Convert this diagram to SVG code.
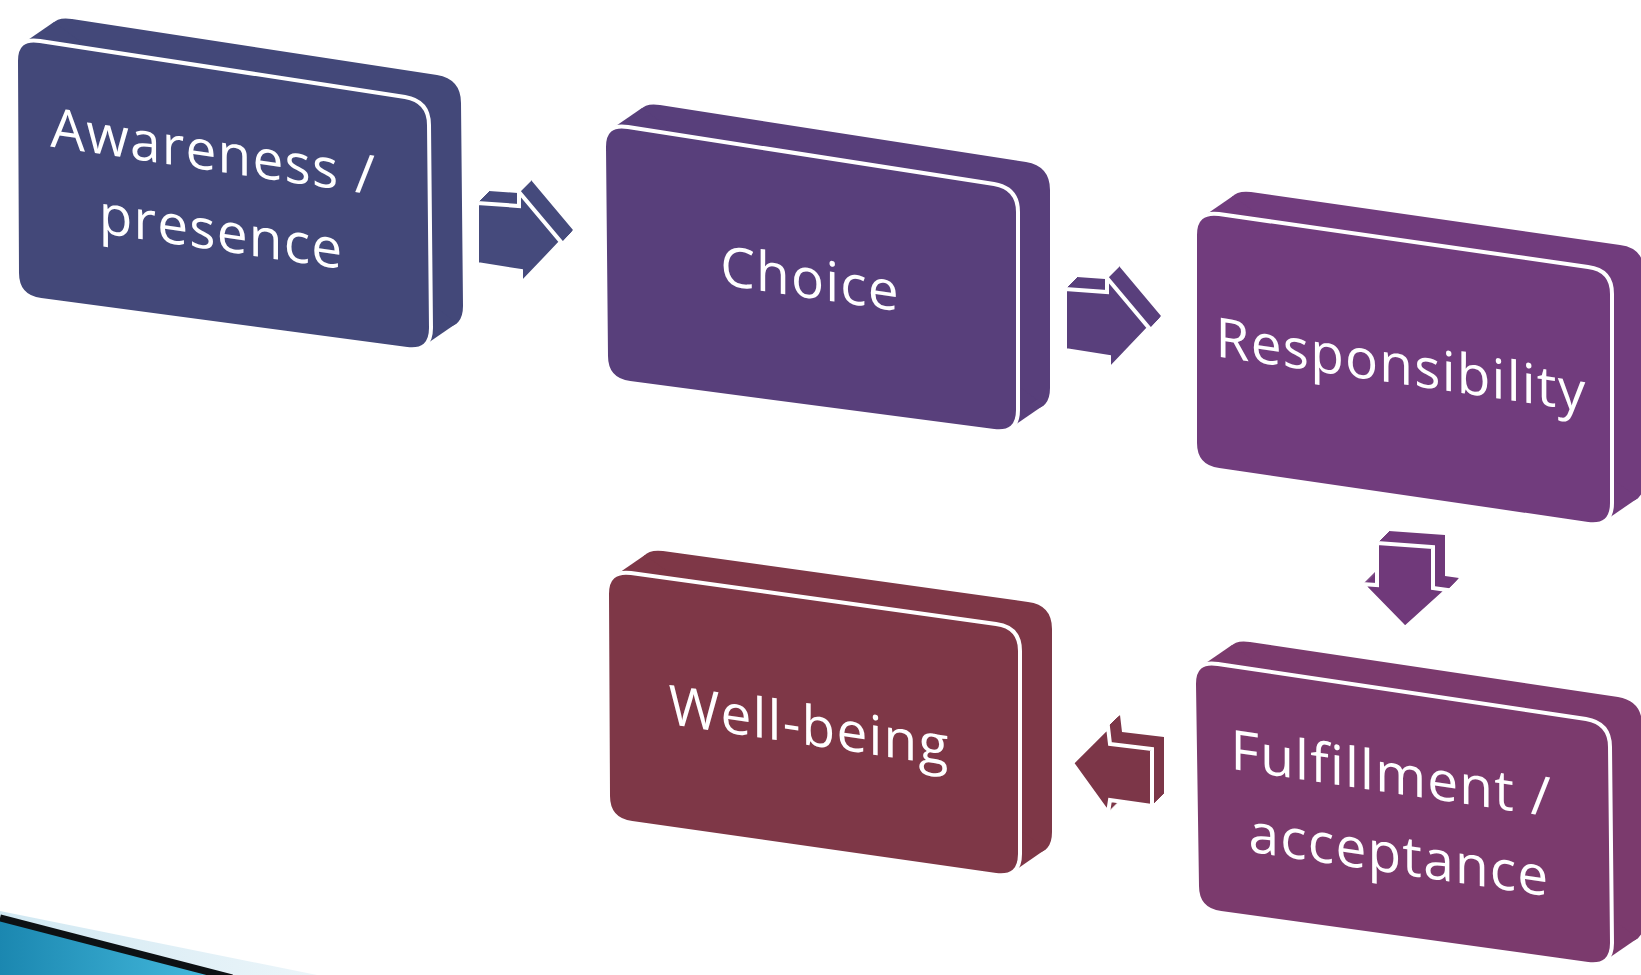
<svg xmlns="http://www.w3.org/2000/svg" width="1641" height="975" viewBox="0 0 1641 975">
  <defs>
    <style>
      .face { stroke: #ffffff; stroke-width: 4; stroke-linejoin: round; }
      .aface { stroke: #ffffff; stroke-width: 4; stroke-linejoin: miter; }
      .label { font-family: "Open Sans", "DejaVu Sans", sans-serif; font-size: 55px; fill: #ffffff; text-anchor: middle; letter-spacing: 1.2px; }
    </style>
    <linearGradient id="teal" x1="0" y1="0" x2="1" y2="0">
      <stop offset="0" stop-color="#1b87b0"/>
      <stop offset="1" stop-color="#47bde0"/>
    </linearGradient>
    <linearGradient id="haze" x1="0" y1="0" x2="1" y2="0">
      <stop offset="0" stop-color="#c9e4f0"/>
      <stop offset="1" stop-color="#e9f4f9"/>
    </linearGradient>

    <!-- front faces of the tilted boxes -->
    <path id="f1" d="M16,61 Q16,37 40,41 L405,97 Q429,101 429,125 L431,328 Q431,352 407,349 L41,300 Q17,297 17,273 Z"/>
    <path id="f2" d="M604,147 Q604,123 628,127 L994,184 Q1018,188 1018,212 L1018,410 Q1018,434 994,431 L630,383 Q606,380 606,356 Z"/>
    <path id="f3" d="M1195,235 Q1195,211 1219,214 L1588,267 Q1612,270 1612,294 L1612,503 Q1612,527 1588,524 L1219,470 Q1195,467 1195,443 Z"/>
    <path id="f4" d="M1194,684 Q1194,660 1218,664 L1586,719 Q1610,723 1610,747 L1612,943 Q1612,967 1588,964 L1221,913 Q1197,910 1197,886 Z"/>
    <path id="f5" d="M607,594 Q607,570 631,573 L996,624 Q1020,627 1020,651 L1020,854 Q1020,878 996,875 L632,823 Q608,820 608,796 Z"/>

    <!-- block arrow faces -->
    <polygon id="aR" points="477,203 519,206 519,192 561,242 521,284 521,271 477,264"/>
    <polygon id="aD" points="1377,543 1433,547 1433,588 1447,590 1405,628 1362,584 1377,585"/>
    <polygon id="aL" points="1072,763 1108,727 1110,744 1152,749 1152,806 1110,800 1108,813"/>

    <!-- extruded body of an arrow: the face swept up and to the right -->
    <g id="xR">
      <use href="#aR" transform="translate(1,-1)"/><use href="#aR" transform="translate(2,-2)"/>
      <use href="#aR" transform="translate(3,-3)"/><use href="#aR" transform="translate(4,-4)"/>
      <use href="#aR" transform="translate(5,-5)"/><use href="#aR" transform="translate(6,-6)"/>
      <use href="#aR" transform="translate(7,-7)"/><use href="#aR" transform="translate(8,-8)"/>
      <use href="#aR" transform="translate(9,-9)"/><use href="#aR" transform="translate(10,-10)"/>
      <use href="#aR" transform="translate(11,-11)"/><use href="#aR" transform="translate(12,-12)"/>
    </g>
    <g id="xD">
      <use href="#aD" transform="translate(1,-1)"/><use href="#aD" transform="translate(2,-2)"/>
      <use href="#aD" transform="translate(3,-3)"/><use href="#aD" transform="translate(4,-4)"/>
      <use href="#aD" transform="translate(5,-5)"/><use href="#aD" transform="translate(6,-6)"/>
      <use href="#aD" transform="translate(7,-7)"/><use href="#aD" transform="translate(8,-8)"/>
      <use href="#aD" transform="translate(9,-9)"/><use href="#aD" transform="translate(10,-10)"/>
      <use href="#aD" transform="translate(11,-11)"/><use href="#aD" transform="translate(12,-12)"/>
    </g>
    <g id="xL">
      <use href="#aL" transform="translate(1,-1)"/><use href="#aL" transform="translate(2,-2)"/>
      <use href="#aL" transform="translate(3,-3)"/><use href="#aL" transform="translate(4,-4)"/>
      <use href="#aL" transform="translate(5,-5)"/><use href="#aL" transform="translate(6,-6)"/>
      <use href="#aL" transform="translate(7,-7)"/><use href="#aL" transform="translate(8,-8)"/>
      <use href="#aL" transform="translate(9,-9)"/><use href="#aL" transform="translate(10,-10)"/>
      <use href="#aL" transform="translate(11,-11)"/><use href="#aL" transform="translate(12,-12)"/>
    </g>
  </defs>

  <rect width="1641" height="975" fill="#ffffff"/>

  <!-- corner ornament -->
  <polygon points="0,911 322,976 230,976 0,918" fill="url(#haze)" opacity="0.85"/>
  <polygon points="0,920 0,976 228,976" fill="url(#teal)"/>
  <line x1="0" y1="918" x2="232" y2="978" stroke="#0d1114" stroke-width="7"/>

  <g id="connectors">
    <g id="arrow-awareness-choice" fill="#454a7c">
      <use href="#xR"/>
      <use href="#aR" class="aface"/>
    </g>
    <g id="arrow-choice-responsibility" fill="#593f7c" transform="translate(588,86)">
      <use href="#xR"/>
      <use href="#aR" class="aface"/>
    </g>
    <g id="arrow-responsibility-fulfillment" fill="#70397a">
      <use href="#xD"/>
      <use href="#aD" class="aface"/>
    </g>
    <g id="arrow-fulfillment-wellbeing" fill="#7c3648">
      <use href="#xL"/>
      <use href="#aL" class="aface"/>
    </g>
  </g>

  <g id="node-awareness" fill="#434879">
    <use href="#f1" transform="translate(32,-22)"/>
    <polygon points="22,44 54,22 457,323 425,345"/>
    <use href="#f1" class="face"/>
    <text class="label" transform="translate(221,172) skewY(8.5)">
      <tspan x="0" y="0">Awareness /</tspan>
      <tspan x="0" y="79">presence</tspan>
    </text>
  </g>

  <g id="node-choice" fill="#583f7b">
    <use href="#f2" transform="translate(32,-22)"/>
    <polygon points="610,130 642,108 1044,405 1012,427"/>
    <use href="#f2" class="face"/>
    <text class="label" transform="translate(810,298) skewY(8.5)">Choice</text>
  </g>

  <g id="node-responsibility" fill="#713c7d">
    <use href="#f3" transform="translate(32,-22)"/>
    <polygon points="1201,218 1233,196 1638,498 1606,520"/>
    <use href="#f3" class="face"/>
    <text class="label" transform="translate(1401,384) skewY(8.5)">Responsibility</text>
  </g>

  <g id="node-fulfillment" fill="#7b3a6d">
    <use href="#f4" transform="translate(32,-22)"/>
    <polygon points="1200,667 1232,645 1638,938 1606,960"/>
    <use href="#f4" class="face"/>
    <text class="label" transform="translate(1399,794) skewY(8.5)">
      <tspan x="0" y="0">Fulfillment /</tspan>
      <tspan x="0" y="80">acceptance</tspan>
    </text>
  </g>

  <g id="node-wellbeing" fill="#7e3747">
    <use href="#f5" transform="translate(32,-22)"/>
    <polygon points="613,577 645,555 1046,849 1014,871"/>
    <use href="#f5" class="face"/>
    <text class="label" transform="translate(809,745) skewY(8.5)">Well-being</text>
  </g>
</svg>
